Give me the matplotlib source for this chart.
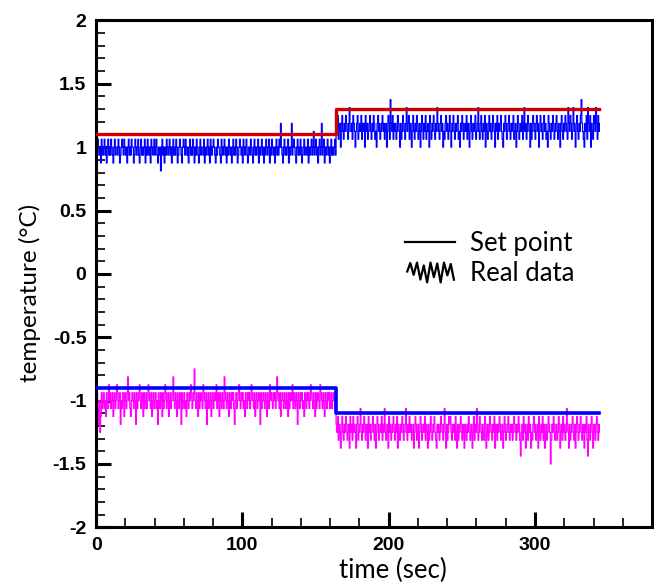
import numpy as np
import matplotlib
matplotlib.use("Agg")
from matplotlib import pyplot as plt
from matplotlib.path import Path
from matplotlib.lines import Line2D
from matplotlib.ticker import MultipleLocator

# sensor readings in counts of 1/16 degC, one sample every 0.5 s
sample_period = 0.5
count_step = 1 / 16

# upper loop, before and after the set point change
upper_a = [16, 15, 17, 16, 15, 16, 14, 17, 16, 15, 16, 17, 15, 16, 14, 16, 17, 15, 16, 15,
           17, 16, 15, 14, 16, 17, 15, 16, 16, 15, 17, 16, 14, 15, 16, 17, 16, 15, 17, 16,
           15, 16, 14, 16, 17, 15, 16, 15, 17, 16, 16, 14, 15, 17, 16, 15, 16, 17, 15, 14,
           16, 17, 15, 16, 15, 16, 17, 14, 16, 15, 17, 16, 15, 16, 14, 17, 16, 15, 16, 17,
           15, 16, 17, 15, 14, 16, 15, 16, 13, 16, 17, 15, 16, 14, 16, 15, 17, 16, 15, 16,
           17, 15, 16, 14, 16, 17, 15, 16, 15, 17, 16, 14, 15, 16, 17, 16, 15, 14, 16, 17,
           16, 15, 17, 16, 15, 16, 14, 16, 17, 15, 16, 15, 17, 16, 14, 16, 15, 17, 16, 15,
           14, 16, 17, 15, 16, 16, 15, 17, 14, 16, 15, 16, 17, 15, 16, 14, 17, 16, 15, 16,
           17, 16, 15, 14, 16, 15, 17, 16, 16, 15, 14, 17, 16, 15, 16, 17, 15, 16, 14, 16,
           15, 17, 16, 15, 16, 14, 16, 17, 15, 16, 15, 17, 16, 14, 15, 16, 17, 16, 15, 16,
           14, 17, 16, 15, 16, 17, 15, 14, 16, 16, 15, 17, 16, 15, 14, 16, 17, 15, 16, 15,
           16, 17, 14, 16, 15, 16, 17, 15, 16, 14, 16, 15, 17, 16, 15, 16, 17, 14, 16, 15,
           17, 16, 15, 16, 14, 16, 17, 15, 16, 15, 17, 16, 19, 16, 15, 14, 16, 17, 15, 16,
           15, 16, 17, 14, 16, 15, 16, 19, 15, 16, 17, 16, 15, 14, 16, 17, 15, 16, 15, 17,
           16, 14, 15, 16, 17, 15, 16, 16, 15, 17, 14, 16, 15, 16, 17, 15, 16, 18, 15, 16,
           17, 15, 16, 14, 16, 17, 15, 16, 19, 15, 16, 17, 14, 16, 15, 16, 17, 15, 16, 14,
           16, 17, 15, 16, 15, 16, 17, 15]
upper_b = [19, 18, 20, 17, 18, 19, 16, 19, 20, 18, 17, 19, 18, 20, 19, 18, 17, 19, 21, 18,
           18, 19, 17, 20, 19, 18, 16, 18, 19, 20, 17, 18, 19, 18, 20, 17, 19, 18, 19, 16,
           20, 18, 19, 17, 18, 19, 20, 18, 17, 19, 18, 20, 19, 17, 18, 16, 19, 20, 18, 19,
           17, 18, 19, 20, 18, 19, 17, 18, 19, 16, 18, 20, 19, 17, 22, 19, 18, 20, 17, 19,
           18, 19, 17, 18, 20, 19, 18, 16, 19, 17, 18, 20, 19, 18, 17, 19, 21, 18, 19, 20,
           17, 19, 18, 16, 19, 20, 18, 17, 19, 18, 20, 19, 17, 18, 19, 16, 18, 20, 19, 17,
           19, 18, 20, 17, 18, 19, 18, 16, 20, 19, 17, 18, 19, 20, 18, 17, 19, 18, 21, 19,
           18, 17, 19, 20, 18, 19, 16, 18, 17, 19, 20, 18, 19, 17, 18, 20, 19, 16, 18, 19,
           20, 18, 17, 19, 18, 19, 20, 17, 18, 16, 19, 18, 20, 19, 17, 18, 19, 18, 20, 17,
           19, 18, 16, 19, 20, 18, 17, 19, 18, 19, 20, 17, 18, 19, 21, 18, 17, 19, 20, 18,
           17, 19, 18, 20, 16, 19, 18, 17, 19, 20, 18, 19, 17, 18, 20, 19, 18, 16, 19, 18,
           20, 17, 19, 18, 19, 20, 18, 17, 16, 19, 18, 20, 19, 17, 18, 19, 20, 18, 17, 19,
           18, 19, 20, 17, 18, 19, 16, 18, 20, 19, 17, 18, 19, 18, 20, 17, 19, 21, 18, 19,
           17, 18, 20, 19, 18, 16, 19, 17, 18, 20, 19, 18, 17, 19, 20, 18, 19, 16, 18, 20,
           19, 18, 17, 19, 20, 18, 19, 17, 18, 16, 20, 19, 18, 17, 19, 18, 20, 19, 17, 18,
           19, 20, 18, 17, 19, 18, 16, 19, 20, 18, 17, 19, 18, 20, 19, 18, 17, 21, 19, 18,
           20, 19, 17, 18, 21, 19, 18, 16, 19, 20, 18, 17, 19, 18, 20, 22, 19, 18, 17, 16,
           19, 18, 20, 17, 21, 19, 18, 20, 16, 19, 18, 17, 20, 19, 18, 21, 19, 17, 20, 18,
           19]

# lower loop, before and after the set point change
lower_a = [-14, -15, -17, -19, -16, -20, -18, -15, -17, -16, -15, -17, -16, -18, -15, -16, -17, -14, -16, -15,
           -17, -16, -15, -18, -16, -15, -17, -16, -14, -15, -17, -16, -15, -19, -16, -17, -15, -16, -18, -15,
           -16, -17, -15, -13, -16, -15, -17, -18, -16, -15, -16, -17, -15, -16, -19, -15, -17, -16, -15, -14,
           -16, -17, -15, -16, -18, -15, -17, -16, -15, -17, -16, -14, -15, -16, -17, -15, -18, -16, -15, -17,
           -16, -15, -17, -16, -19, -15, -16, -17, -15, -16, -18, -15, -17, -16, -14, -15, -17, -16, -15, -18,
           -16, -15, -17, -16, -15, -13, -16, -17, -15, -16, -18, -15, -16, -17, -15, -16, -19, -15, -17, -16,
           -15, -17, -16, -18, -15, -16, -17, -15, -16, -14, -15, -17, -16, -15, -12, -16, -17, -15, -16, -18,
           -15, -17, -16, -15, -16, -17, -14, -15, -16, -17, -15, -19, -16, -15, -17, -16, -15, -18, -16, -15,
           -17, -16, -15, -16, -14, -17, -15, -16, -18, -15, -16, -17, -15, -16, -17, -13, -15, -16, -17, -15,
           -16, -18, -15, -16, -17, -15, -16, -15, -17, -19, -16, -15, -17, -16, -15, -14, -16, -17, -15, -16,
           -15, -17, -16, -18, -15, -16, -17, -15, -16, -15, -17, -16, -14, -15, -16, -17, -15, -18, -16, -15,
           -17, -16, -15, -16, -19, -15, -17, -16, -15, -16, -17, -15, -16, -18, -15, -16, -17, -14, -16, -15,
           -16, -17, -15, -16, -15, -17, -16, -13, -15, -16, -17, -15, -18, -16, -15, -16, -17, -15, -16, -17,
           -15, -16, -18, -15, -17, -16, -15, -16, -14, -17, -15, -16, -17, -15, -16, -19, -15, -16, -17, -15,
           -16, -15, -17, -16, -18, -15, -16, -17, -15, -16, -15, -17, -16, -14, -15, -16, -17, -15, -16, -18,
           -15, -17, -16, -15, -16, -17, -14, -15, -16, -17, -15, -16, -18, -15, -16, -17, -15, -16, -15, -17,
           -16, -15, -17, -16, -15, -16, -17, -16]
lower_b = [-19, -20, -18, -21, -19, -20, -22, -19, -18, -20, -21, -19, -20, -18, -19, -21, -20, -19, -22, -18,
           -20, -19, -21, -18, -20, -19, -20, -22, -19, -18, -21, -20, -19, -17, -20, -21, -19, -20, -18, -19,
           -21, -20, -19, -22, -18, -20, -19, -21, -20, -19, -18, -20, -21, -19, -22, -20, -18, -19, -21, -20,
           -19, -20, -18, -21, -19, -20, -17, -19, -21, -20, -19, -22, -18, -20, -19, -21, -20, -19, -18, -20,
           -21, -19, -20, -18, -22, -19, -20, -21, -19, -20, -18, -19, -21, -20, -19, -17, -20, -21, -19, -20,
           -18, -20, -19, -21, -20, -19, -22, -20, -18, -19, -21, -20, -19, -22, -20, -18, -19, -21, -20, -19,
           -20, -18, -21, -19, -20, -22, -19, -21, -20, -18, -19, -21, -20, -19, -18, -20, -21, -22, -19, -20,
           -19, -21, -20, -18, -19, -20, -21, -19, -17, -20, -22, -19, -21, -20, -18, -19, -18, -20, -21, -19,
           -20, -19, -21, -18, -20, -22, -19, -21, -20, -19, -18, -20, -21, -19, -20, -22, -19, -20, -21, -19,
           -20, -18, -19, -21, -20, -19, -22, -20, -18, -21, -19, -20, -17, -19, -21, -20, -18, -19, -20, -21,
           -19, -20, -21, -18, -19, -22, -20, -19, -21, -20, -18, -19, -20, -21, -19, -20, -18, -22, -19, -20,
           -21, -19, -20, -18, -19, -21, -20, -19, -22, -20, -18, -19, -21, -20, -19, -18, -20, -21, -19, -20,
           -19, -21, -20, -18, -19, -20, -21, -19, -20, -18, -19, -21, -23, -20, -19, -21, -18, -20, -19, -22,
           -20, -19, -21, -18, -20, -19, -22, -20, -21, -19, -18, -20, -19, -21, -20, -19, -22, -18, -20, -21,
           -19, -20, -18, -21, -19, -22, -20, -19, -21, -20, -18, -19, -20, -24, -21, -19, -20, -18, -19, -21,
           -20, -19, -21, -20, -18, -19, -22, -20, -19, -21, -18, -20, -19, -21, -20, -17, -19, -20, -22, -19,
           -21, -20, -19, -18, -20, -21, -19, -22, -20, -18, -19, -21, -20, -19, -18, -20, -21, -19, -20, -22,
           -19, -20, -18, -21, -23, -19, -20, -21, -19, -18, -20, -22, -19, -20, -21, -19, -18, -20, -21, -19,
           -20]

# set points
sp_times = [0, 164, 344]
upper_sp = [1.1, 1.3, 1.3]
lower_sp = [-0.9, -1.1, -1.1]

upper = np.array(upper_a + upper_b) * count_step
lower = np.array(lower_a + lower_b) * count_step
t = np.arange(len(upper)) * sample_period

plt.rcParams['axes.unicode_minus'] = False
label_font = 'Lato'

fig = plt.figure(figsize=(6.54, 5.84), dpi=100)
ax = fig.add_axes([0.147, 0.097, 0.85, 0.868])

ax.plot(t, upper, drawstyle='steps-post', color='#0000ff', lw=0.9, zorder=2)
ax.plot(t, lower, drawstyle='steps-post', color='#ff00ff', lw=0.9, zorder=2)
ax.plot(sp_times, upper_sp, drawstyle='steps-post', color='#cc0000', lw=2.4, zorder=3)
ax.plot(sp_times, lower_sp, drawstyle='steps-post', color='#0000ff', lw=2.6, zorder=3)

ax.set_xlim(0, 380)
ax.set_ylim(-2, 2)
ax.xaxis.set_major_locator(MultipleLocator(100))
ax.xaxis.set_minor_locator(MultipleLocator(20))
ax.yaxis.set_major_locator(MultipleLocator(0.5))
ax.yaxis.set_minor_locator(MultipleLocator(0.1))
ax.yaxis.set_major_formatter(plt.FuncFormatter(lambda v, p: '%g' % v))
ax.xaxis.set_major_formatter(plt.FuncFormatter(lambda v, p: '%g' % v))

for s in ax.spines.values():
    s.set_linewidth(2.2)
ax.tick_params(which='major', direction='in', length=11, width=2.2, top=False, right=False)
ax.tick_params(which='minor', direction='in', length=6.5, width=1.2, top=False, right=False)
ax.tick_params(labelsize=14, pad=7)
for lab in ax.get_xticklabels() + ax.get_yticklabels():
    lab.set_fontfamily('Liberation Sans')
    lab.set_fontweight('bold')

ax.set_xlabel('time (sec)', fontsize=18.5, family=label_font)
ax.set_ylabel('temperature (\u00b0C)', fontsize=17.5, family=label_font)
ax.xaxis.set_label_coords(0.534, -0.06)
ax.yaxis.set_label_coords(-0.1, 0.463)

# legend: plain line and zigzag glyph
zz_x = np.linspace(-1, 1, 15)
zz_y = [0.0, 0.4, -0.1, 0.42, -0.3, 0.3, -0.42, 0.42, -0.2, 0.38, -0.42, 0.42, -0.12, 0.36, -0.35]
zigzag = Path(np.column_stack([zz_x, zz_y]))
handles = [Line2D([], [], color='black', lw=1.6),
           Line2D([], [], ls='none', marker=zigzag, markersize=34, mew=1.6,
                  color='black', markerfacecolor='none')]
ax.legend(handles, ['Set point', 'Real data'], loc='upper left',
          bbox_to_anchor=(0.555, 0.585), frameon=False, numpoints=1,
          handlelength=1.95, handletextpad=0.6, labelspacing=0.22,
          borderpad=0, borderaxespad=0, prop={'family': label_font, 'size': 18.5})

fig.savefig('out.png', dpi=100)
